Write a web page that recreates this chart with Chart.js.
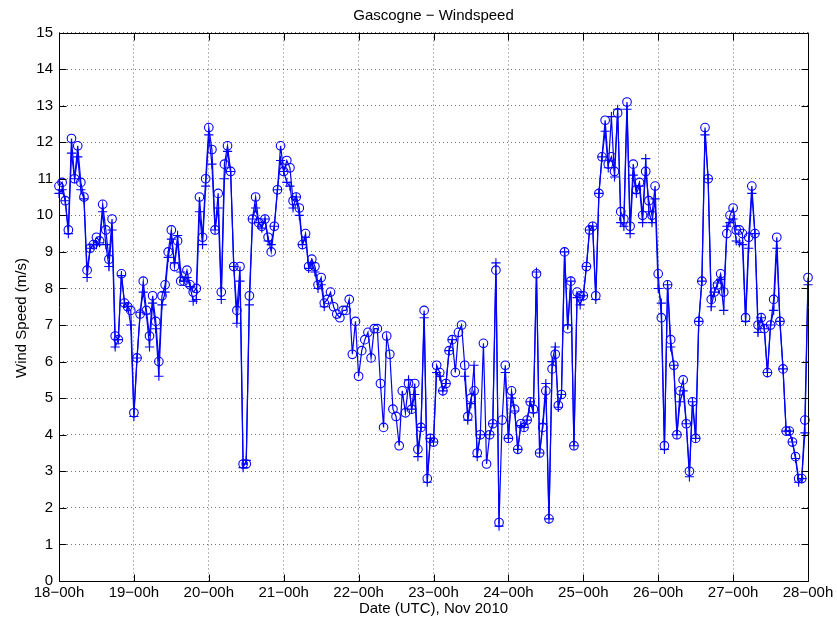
<!DOCTYPE html>
<html lang="fr">
<head>
<meta charset="utf-8">
<title>Gascogne - Windspeed</title>
<script src="https://cdn.jsdelivr.net/npm/chart.js@4.4.0/dist/chart.umd.min.js"></script>
<style>
  html, body { margin: 0; padding: 0; background: #fff; }
  #wrap { width: 837px; height: 624px; }
</style>
</head>
<body>
<div id="wrap"><canvas id="myChart" width="837" height="624"></canvas></div>
<script>
//! Les données (une valeur par heure, du 18 au 28 novembre).

// Vent mesuré, série "o" (m/s).
const vitesseCercle = [
  10.8, 10.9, 10.4, 9.6, 12.1, 11.0, 11.9, 10.9, 10.5, 8.5, 9.1, 9.2, 9.4, 9.3, 10.3, 9.6, 8.8, 9.9, 6.7, 6.6, 8.4, 7.6, 7.5, 7.4,
  4.6, 6.1, 7.3, 8.2, 7.4, 6.7, 7.8, 7.1, 6.0, 7.8, 8.1, 9.0, 9.6, 8.6, 9.3, 8.2, 8.2, 8.5, 8.1, 7.9, 8.0, 10.5, 9.4, 11.0,
  12.4, 11.8, 9.6, 10.6, 7.9, 11.4, 11.9, 11.2, 8.6, 7.4, 8.6, 3.2, 3.2, 7.8, 9.9, 10.5, 9.8, 9.7, 9.9, 9.4, 9.0, 9.7, 10.7, 11.9,
  11.2, 11.5, 11.3, 10.4, 10.5, 10.2, 9.2, 9.5, 8.6, 8.8, 8.6, 8.1, 8.3, 7.6, 7.7, 7.9, 7.5, 7.3, 7.2, 7.4, 7.4, 7.7, 6.2, 7.1,
  5.6, 6.3, 6.6, 6.8, 6.1, 6.9, 6.9, 5.4, 4.2, 6.7, 6.2, 4.7, 4.5, 3.7, 5.2, 4.6, 5.4, 4.7, 5.4, 3.6, 4.2, 7.4, 2.8, 3.9,
  3.8, 5.9, 5.7, 5.2, 5.4, 6.3, 6.6, 5.7, 6.8, 7.0, 5.9, 4.5, 5.0, 5.2, 3.5, 4.0, 6.5, 3.2, 4.0, 4.3, 8.5, 1.6, 4.4, 5.9,
  3.9, 5.2, 4.7, 3.6, 4.3, 4.2, 4.4, 4.9, 4.7, 8.4, 3.5, 4.2, 5.2, 1.7, 5.8, 6.2, 4.8, 5.1, 9.0, 6.9, 8.2, 3.7, 7.9, 7.8,
  7.8, 8.6, 9.6, 9.7, 7.8, 10.6, 11.6, 12.6, 11.4, 11.6, 11.2, 12.8, 10.1, 9.9, 13.1, 9.7, 11.4, 10.7, 10.9, 10.0, 11.2, 10.4, 10.0, 10.8,
  8.4, 7.2, 3.7, 8.1, 6.6, 5.9, 4.0, 5.2, 5.5, 4.3, 3.0, 4.9, 3.9, 7.1, 8.2, 12.4, 11.0, 7.7, 7.9, 8.1, 8.4, 7.9, 9.5, 10.0,
  10.2, 9.6, 9.6, 9.5, 7.2, 9.4, 10.8, 9.5, 7.0, 7.2, 6.9, 5.7, 7.0, 7.7, 9.4, 7.1, 5.8, 4.1, 4.1, 3.8, 3.4, 2.8, 2.8, 4.4,
  8.3,
];

// Vent mesuré, série "+" (m/s), null = pas de mesure.
const vitesseCroix = [
  10.6, 10.7, 10.4, 9.5, 11.7, 11.0, 11.6, 10.7, 10.45, 8.3, 9.1, 9.2, 9.2, 9.25, 10.1, 9.2, 8.6, 9.6, 6.4, 6.6, 8.35, 7.6, 7.5, 7.0,
  4.5, 6.1, 7.35, 7.9, 7.3, 6.4, 7.6, 6.9, 5.6, 7.55, 7.9, 8.85, 9.35, 8.7, 9.45, 8.45, 8.2, 8.3, 8.05, 7.65, 7.7, 10.1, 9.2, 10.8,
  12.2, 11.4, 9.6, 10.2, 7.7, 11.0, 11.75, 11.2, 8.6, 7.05, 8.2, 3.1, 3.3, 7.55, 9.9, 10.2, 9.8, 9.65, 9.9, 9.3, 9.2, 9.7, 10.7, 11.5,
  11.2, 10.9, 10.8, 10.2, 10.5, 10.0, 9.2, 9.4, 8.55, 8.7, 8.45, 8.0, 8.1, 7.5, null, null, null, null, null, null, null, null, null, null,
  null, null, null, null, null, null, null, null, null, null, null, null, null, null, null, null, 5.5, 4.7, 5.1, 3.4, 4.2, 7.2, 2.7, 3.9,
  3.8, 5.7, 5.6, 5.2, 5.4, 6.3, 6.6, null, null, null, 5.6, 4.4, 4.85, 5.9, 3.4, 4.0, null, null, 4.0, 4.3, 8.7, 1.5, null, 5.7,
  3.9, 5.0, 4.65, 3.6, 4.25, 4.2, 4.4, 4.9, 4.6, 8.45, 3.5, 4.3, 5.4, 1.7, 6.0, 6.4, 4.75, 5.1, 9.0, 7.0, 8.2, 3.7, 7.75, 7.55,
  7.8, 8.6, 9.6, 9.7, 7.7, 10.6, 11.6, 12.3, 11.3, 12.7, 11.05, 12.9, 9.8, 9.7, 12.9, 9.5, 11.1, 10.6, 10.8, 9.8, 11.55, 10.1, 9.8, 10.45,
  8.0, 7.6, 3.6, 8.1, 6.4, 5.9, 4.0, 4.9, 5.2, 4.3, 2.85, 4.9, 3.9, 7.1, 8.2, 12.2, 11.0, 7.5, 7.9, 8.15, 8.25, 7.4, 9.7, 9.8,
  9.9, 9.3, 9.25, 9.2, 7.1, 9.1, 10.6, 9.5, 6.8, 7.2, 6.9, 5.7, 7.0, 7.4, 9.1, 7.1, 5.8, 4.1, 4.1, 3.8, 3.35, 2.7, 2.8, 4.05,
  8.1,
];

// Graduations de l'axe des dates (une par jour).
const joursLabels = [
  '18−00h', '19−00h', '20−00h', '21−00h', '22−00h', '23−00h',
  '24−00h', '25−00h', '26−00h', '27−00h', '28−00h',
];

const titre = 'Gascogne − Windspeed';
const labelX = 'Date (UTC), Nov 2010';
const labelY = 'Wind Speed (m/s)';

//! --------------------------------------------------------------

//! Mise en forme.

const bleu = '#0000ff';
const police = { family: '"Liberation Sans", Arial, Helvetica, sans-serif', size: 15, weight: 'normal' };

Chart.defaults.font.family = police.family;
Chart.defaults.color = '#000';

// x = heure depuis le 18 à 00h
let pointsCercle = vitesseCercle.map((v, i) => ({ x: i, y: v }));
let pointsCroix = vitesseCroix.map((v, i) => ({ x: i, y: v }));

// Cadre noir, graduations vers l'intérieur, titre et légende de l'axe y.
const cadre = {
  id: 'cadre',
  afterDraw(chart) {
    const { ctx, chartArea: a, scales } = chart;
    const g = Math.round(a.left) + 0.5;
    const d = Math.round(a.right) + 0.5;
    const h = Math.round(a.top) + 0.5;
    const b = Math.round(a.bottom) + 0.5;

    ctx.save();
    ctx.strokeStyle = '#000';
    ctx.lineWidth = 1;
    ctx.setLineDash([]);
    ctx.beginPath();
    ctx.rect(g, h, d - g, b - h);

    scales.x.ticks.forEach((t) => {
      const px = Math.round(scales.x.getPixelForValue(t.value)) + 0.5;
      ctx.moveTo(px, b);
      ctx.lineTo(px, b - 7);
      ctx.moveTo(px, h);
      ctx.lineTo(px, h + 7);
    });
    scales.y.ticks.forEach((t) => {
      const py = Math.round(scales.y.getPixelForValue(t.value)) + 0.5;
      ctx.moveTo(g, py);
      ctx.lineTo(g + 7, py);
      ctx.moveTo(d, py);
      ctx.lineTo(d - 7, py);
    });
    ctx.stroke();

    ctx.fillStyle = '#000';
    ctx.font = police.size + 'px ' + police.family;
    ctx.textAlign = 'center';
    ctx.textBaseline = 'middle';
    ctx.fillText(titre, (a.left + a.right) / 2, 15.5);

    ctx.translate(22, 318);
    ctx.rotate(-Math.PI / 2);
    ctx.fillText(labelY, 0, 0);
    ctx.restore();
  },
};

const data = {
  datasets: [
    {
      label: 'o',
      data: pointsCercle,
      borderColor: bleu,
      borderWidth: 1.2,
      backgroundColor: 'transparent',
      pointStyle: 'circle',
      pointRadius: 4.3,
      pointBorderWidth: 1.1,
      pointBorderColor: bleu,
      pointBackgroundColor: 'transparent',
      tension: 0,
      clip: false,
    },
    {
      label: '+',
      data: pointsCroix,
      borderColor: bleu,
      borderWidth: 1.2,
      backgroundColor: 'transparent',
      pointStyle: 'cross',
      pointRadius: 4.6,
      pointBorderWidth: 1.1,
      pointBorderColor: bleu,
      tension: 0,
      spanGaps: false,
      clip: false,
    },
  ],
};

let options = {
  responsive: false,
  animation: false,
  devicePixelRatio: 1,
  layout: { padding: { left: 0, right: 29, top: 32.5, bottom: 0 } },
  plugins: {
    legend: { display: false },
    tooltip: { enabled: false },
  },
  scales: {
    x: {
      type: 'linear',
      min: 0,
      max: 240,
      ticks: {
        stepSize: 24,
        autoSkip: false,
        maxRotation: 0,
        padding: 3,
        font: police,
        color: '#000',
        callback: (value) => joursLabels[Math.round(value / 24)],
      },
      grid: { color: 'rgba(0,0,0,0.55)', lineWidth: 1, drawTicks: false },
      border: { display: false, dash: [1, 3] },
      title: {
        display: true,
        text: labelX,
        font: police,
        color: '#000',
        padding: { top: 0, bottom: 6 },
      },
      afterFit: (s) => {
        s.height = 43;
      },
    },
    y: {
      min: 0,
      max: 15,
      ticks: {
        stepSize: 1,
        padding: 6,
        font: police,
        color: '#000',
      },
      grid: { color: 'rgba(0,0,0,0.55)', lineWidth: 1, drawTicks: false },
      border: { display: false, dash: [1, 3] },
      afterFit: (s) => {
        s.width = 59;
      },
    },
  },
};

const config = {
  type: 'line',
  data,
  options,
  plugins: [cadre],
};

const myChart = new Chart(document.getElementById('myChart'), config);
</script>
</body>
</html>
